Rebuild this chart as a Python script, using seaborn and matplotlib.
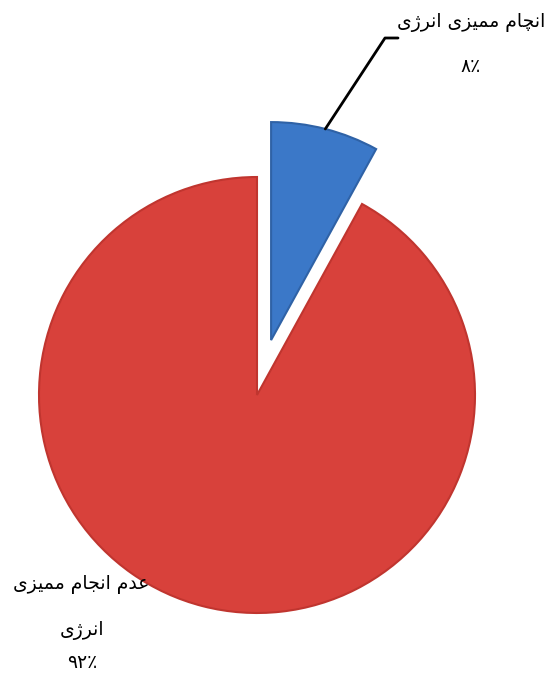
import matplotlib
matplotlib.use("Agg")
import matplotlib.pyplot as plt
import numpy as np
import seaborn as sns

# data
label_lines = [["انچام ممیزی انرژی"], ["عدم انجام ممیزی", "انرژی"]]
percent_labels = ["۸٪", "۹۲٪"]
values = [8, 92]
colors = ["#3b78c8", "#d8413b"]

# presentation forms: isolated, final, initial, medial (None = doesn't join forward)
FORMS = {
    "ا": ("\uFE8D", "\uFE8E", None, None),
    "ن": ("\uFEE5", "\uFEE6", "\uFEE7", "\uFEE8"),
    "ج": ("\uFE9D", "\uFE9E", "\uFE9F", "\uFEA0"),
    "چ": ("\uFB7A", "\uFB7B", "\uFB7C", "\uFB7D"),
    "م": ("\uFEE1", "\uFEE2", "\uFEE3", "\uFEE4"),
    "ی": ("\uFEEF", "\uFEF0", "\uFEF3", "\uFEF4"),
    "ز": ("\uFEAF", "\uFEB0", None, None),
    "ر": ("\uFEAD", "\uFEAE", None, None),
    "ژ": ("\uFB8A", "\uFB8B", None, None),
    "ع": ("\uFEC9", "\uFECA", "\uFECB", "\uFECC"),
    "د": ("\uFEA9", "\uFEAA", None, None),
}


def shape(text):
    # join letters into their contextual forms, then lay out right-to-left
    out = []
    for i, ch in enumerate(text):
        if ch not in FORMS:
            out.append(ch)
            continue
        prev = text[i - 1] if i > 0 else " "
        nxt = text[i + 1] if i < len(text) - 1 else " "
        join_prev = prev in FORMS and FORMS[prev][2] is not None
        join_next = nxt in FORMS and FORMS[ch][2] is not None
        iso, fin, ini, med = FORMS[ch]
        if join_prev and join_next:
            out.append(med)
        elif join_prev:
            out.append(fin)
        elif join_next:
            out.append(ini)
        else:
            out.append(iso)
    return "".join(out)[::-1]


sns.set_theme(style="white")
plt.rcParams["font.family"] = ["DejaVu Sans"]

W, H = 547, 675
fig = plt.figure(figsize=(W / 100, H / 100), dpi=100)
ax = fig.add_axes([0, 0, 1, 1])
ax.set_aspect("equal")
ax.axis("off")

cx, cy, R = 257, H - 395, 218
wedges, _ = ax.pie(values, colors=colors, startangle=90, counterclock=False,
                   explode=[0.26 * R, 0], center=(cx, cy), radius=R,
                   wedgeprops=dict(linewidth=1.5))
wedges[0].set_edgecolor("#2f62a6")
wedges[1].set_edgecolor("#c0352f")
ax.set_xlim(0, W)
ax.set_ylim(0, H)

# leader line for the small slice
w = wedges[0]
mid = np.deg2rad((w.theta1 + w.theta2) / 2)
px = w.center[0] + R * np.cos(mid)
py = w.center[1] + R * np.sin(mid)
ax.plot([px, 385, 398], [py, H - 38, H - 38], color="black", lw=2)

fs = 13.5
ax.text(471, H - 22, shape(label_lines[0][0]), ha="center", va="center",
        fontsize=fs, color="black")
ax.text(471, H - 67, percent_labels[0], ha="center", va="center",
        fontsize=fs, color="black")

ax.text(81, H - 585, shape(label_lines[1][0]), ha="center", va="center",
        fontsize=fs, color="black")
ax.text(82, H - 630, shape(label_lines[1][1]), ha="center", va="center",
        fontsize=fs, color="black")
ax.text(82, H - 663, percent_labels[1], ha="center", va="center",
        fontsize=fs, color="black")

fig.savefig("out.png", dpi=100)
